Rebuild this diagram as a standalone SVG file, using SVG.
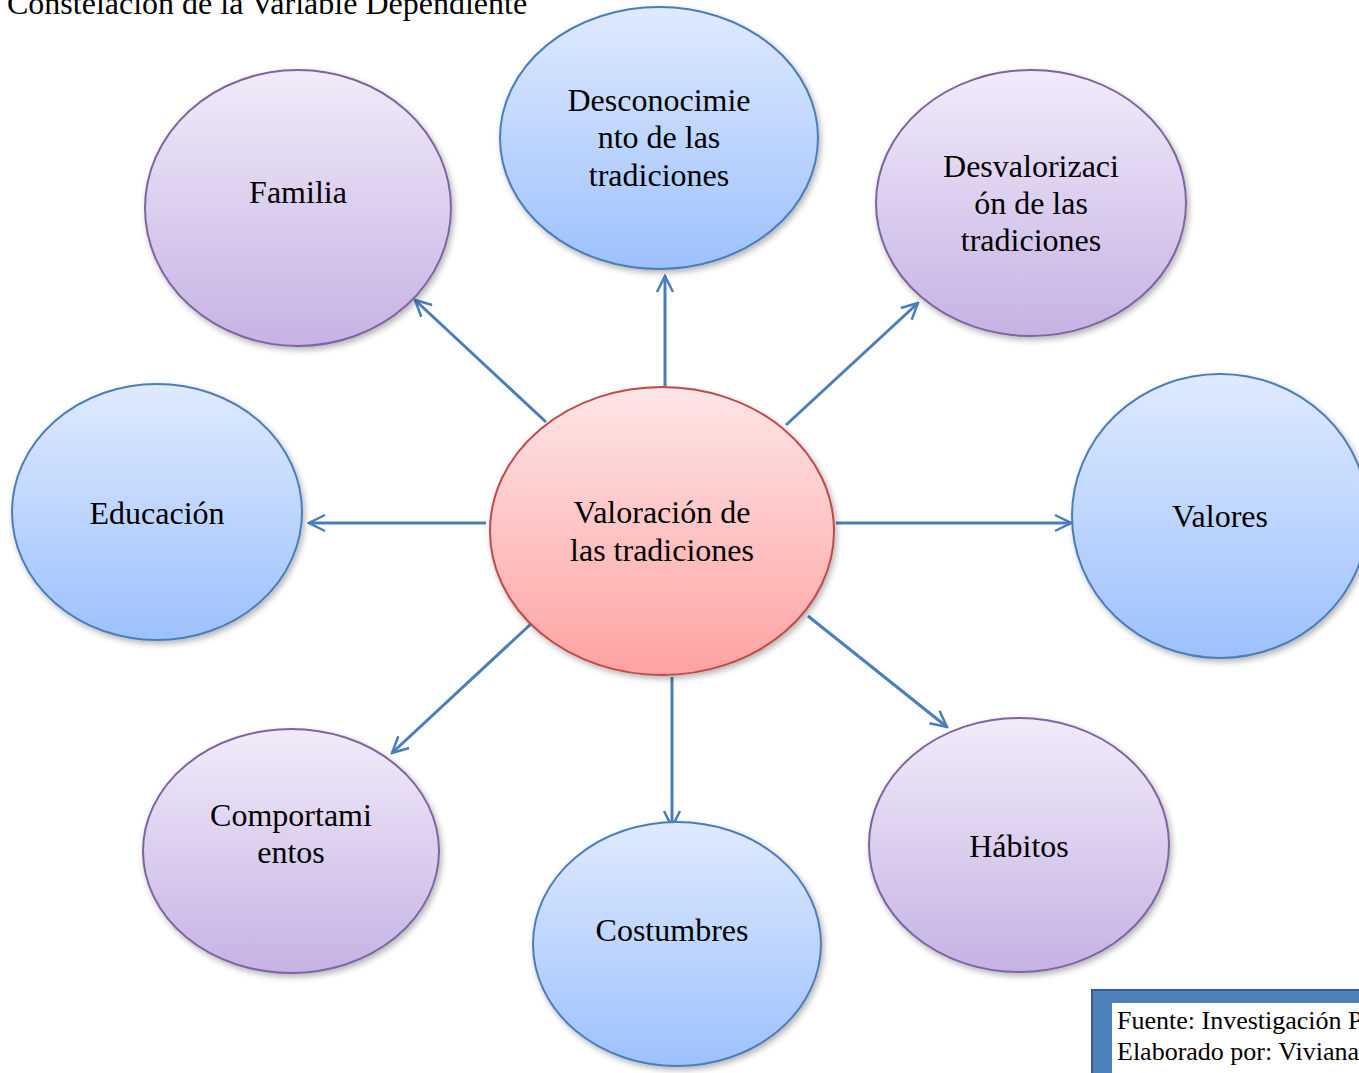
<svg xmlns="http://www.w3.org/2000/svg" width="1359" height="1073" viewBox="0 0 1359 1073">
<defs>
<linearGradient id="gp" x1="0" y1="0" x2="0" y2="1"><stop offset="0" stop-color="#f1ebf9"/><stop offset="1" stop-color="#c6b2e4"/></linearGradient>
<linearGradient id="gb" x1="0" y1="0" x2="0" y2="1"><stop offset="0" stop-color="#dfeafe"/><stop offset="1" stop-color="#9dc1fd"/></linearGradient>
<linearGradient id="gr" x1="0" y1="0" x2="0" y2="1"><stop offset="0" stop-color="#fde6e6"/><stop offset="1" stop-color="#ffa2a2"/></linearGradient>
<filter id="sh" x="-10%" y="-10%" width="125%" height="125%"><feGaussianBlur in="SourceAlpha" stdDeviation="3"/><feOffset dx="2" dy="3"/><feComponentTransfer><feFuncA type="linear" slope="0.3"/></feComponentTransfer><feMerge><feMergeNode/><feMergeNode in="SourceGraphic"/></feMerge></filter>
<marker id="ah" viewBox="0 0 20 20" refX="18" refY="10" markerWidth="20" markerHeight="20" markerUnits="userSpaceOnUse" orient="auto"><polyline points="2,2 18,10 2,18" fill="none" stroke="#4a7ebb" stroke-width="2.5"/></marker>
</defs>
<style>
.p{fill:url(#gp);stroke:#8064a2;stroke-width:2}
.b{fill:url(#gb);stroke:#4a7ebb;stroke-width:2}
.r{fill:url(#gr);stroke:#be4b48;stroke-width:2}
.t{font-family:"Liberation Serif","Times New Roman",serif;font-size:32px;fill:#000;text-anchor:middle}
.c{stroke:#4a7ebb;stroke-width:3;fill:none;marker-end:url(#ah)}
.s{font-family:"Liberation Serif","Times New Roman",serif;fill:#000}
</style>
<rect width="1359" height="1073" fill="#fff"/>
<text class="s" x="7" y="14" font-size="32">Constelación de la Variable Dependiente</text>
<g id="connectors">
<line class="c" x1="546" y1="422" x2="415" y2="300"/>
<line class="c" x1="665" y1="386" x2="665" y2="276"/>
<line class="c" x1="786" y1="425" x2="918" y2="303"/>
<line class="c" x1="486" y1="523" x2="309" y2="523"/>
<line class="c" x1="836" y1="523" x2="1071" y2="523"/>
<line class="c" x1="533" y1="622" x2="392" y2="753"/>
<line class="c" x1="672" y1="677" x2="672" y2="827"/>
<line class="c" x1="808" y1="616" x2="947" y2="727"/>
</g>
<g id="familia"><ellipse class="p" filter="url(#sh)" cx="298" cy="208" rx="153" ry="138"/><text class="t" x="298" y="203">Familia</text></g>
<g id="desconocimiento"><ellipse class="b" filter="url(#sh)" cx="659" cy="138" rx="159" ry="131"/><text class="t" x="659" y="111">Desconocimie</text><text class="t" x="659" y="148">nto de las</text><text class="t" x="659" y="186">tradiciones</text></g>
<g id="desvalorizacion"><ellipse class="p" filter="url(#sh)" cx="1031" cy="203" rx="155" ry="133"/><text class="t" x="1031" y="177">Desvalorizaci</text><text class="t" x="1031" y="214">ón de las</text><text class="t" x="1031" y="251">tradiciones</text></g>
<g id="educacion"><ellipse class="b" filter="url(#sh)" cx="157" cy="512" rx="145" ry="128"/><text class="t" x="157" y="524">Educación</text></g>
<g id="valores"><ellipse class="b" filter="url(#sh)" cx="1220" cy="516" rx="148" ry="142"/><text class="t" x="1220" y="527">Valores</text></g>
<g id="comportamientos"><ellipse class="p" filter="url(#sh)" cx="291" cy="851" rx="148" ry="122"/><text class="t" x="291" y="826">Comportami</text><text class="t" x="291" y="863">entos</text></g>
<g id="costumbres"><ellipse class="b" filter="url(#sh)" cx="677" cy="944" rx="144" ry="122"/><text class="t" x="672" y="941">Costumbres</text></g>
<g id="habitos"><ellipse class="p" filter="url(#sh)" cx="1019" cy="845" rx="150" ry="127"/><text class="t" x="1019" y="857">Hábitos</text></g>
<g id="valoracion"><ellipse class="r" filter="url(#sh)" cx="662" cy="531" rx="172" ry="144"/><text class="t" x="662" y="523">Valoración de</text><text class="t" x="662" y="561">las tradiciones</text></g>
<g id="fuente">
<rect x="1092" y="990" width="280" height="90" fill="#4f81bd" stroke="#385d8a" stroke-width="2"/>
<rect x="1112" y="1003" width="260" height="80" fill="#fff"/>
<text class="s" x="1117" y="1029" font-size="26">Fuente: Investigación Propia</text>
<text class="s" x="1117" y="1060" font-size="26">Elaborado por: Viviana</text>
</g>
</svg>
